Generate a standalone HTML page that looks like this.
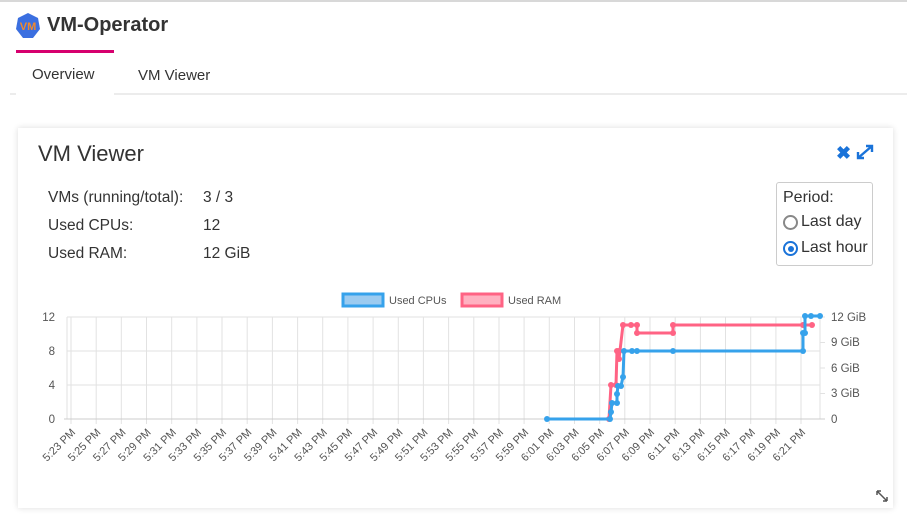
<!DOCTYPE html>
<html><head><meta charset="utf-8"><style>
body{margin:0;width:907px;height:525px;background:#fff;font-family:"Liberation Sans",sans-serif;position:relative;overflow:hidden;color:#333}
.top{position:absolute;left:0;top:0;width:907px;height:95px;background:#fff;border-top:2px solid #d8d8d8;box-sizing:border-box}
.bar{position:absolute;left:10px;top:93px;width:897px;height:2px;background:#ececec}
.card{position:absolute;left:18px;top:128px;width:875px;height:380px;background:#fff;box-shadow:0 0 6px rgba(0,0,0,.14)}
.abs{position:absolute;white-space:nowrap}
</style></head><body>
<div class="top">
<svg class="abs" style="left:15px;top:10px" width="26" height="28" viewBox="0 0 26 28"><polygon points="13,1 23,6 25,17 18,26 8,26 1,17 3,6" fill="#3b6fe0"/><text x="13" y="18" font-size="11" font-weight="bold" fill="#f28a2a" text-anchor="middle" font-family="Liberation Sans">VM</text></svg>
<div class="abs" style="left:47px;top:12px;font-size:20px;font-weight:bold;color:#333">VM-Operator</div>
<div class="abs" style="left:16px;top:48px;width:98px;height:3px;background:#d6006e"></div>
<div class="abs" style="left:32px;top:64px;font-size:15px">Overview</div>
<div class="abs" style="left:138px;top:65px;font-size:15px">VM Viewer</div>
</div>
<div class="bar"></div>
<div class="abs" style="left:16px;top:93px;width:98px;height:3px;background:#fff"></div>
<div class="card">
<div class="abs" style="left:20px;top:13px;font-size:22px;color:#333">VM Viewer</div>
<div class="abs" style="left:818px;top:15px;font-size:18px;color:#1a73d9;font-weight:bold">✖</div>
<svg class="abs" style="left:838px;top:16px" width="18" height="16" viewBox="0 0 18 16"><path d="M2 14 L16 2 M10 2 H16 V8 M2 8 V14 H8" stroke="#1a73d9" stroke-width="2.4" fill="none"/></svg>
<div class="abs" style="left:30px;top:61px;font-size:15.5px">VMs (running/total):</div>
<div class="abs" style="left:185px;top:61px;font-size:15.5px">3 / 3</div>
<div class="abs" style="left:30px;top:89px;font-size:15.5px">Used CPUs:</div>
<div class="abs" style="left:185px;top:89px;font-size:15.5px">12</div>
<div class="abs" style="left:30px;top:117px;font-size:15.5px">Used RAM:</div>
<div class="abs" style="left:185px;top:117px;font-size:15.5px">12 GiB</div>
<div class="abs" style="left:758px;top:54px;width:95px;height:82px;border:1px solid #ccc;border-radius:3px;font-size:16px">
<div class="abs" style="left:6px;top:6px">Period:</div>
<div class="abs" style="left:6px;top:32px;width:11px;height:11px;border:2px solid #888;border-radius:50%"></div>
<div class="abs" style="left:24px;top:30px">Last day</div>
<div class="abs" style="left:6px;top:58px;width:11px;height:11px;border:2px solid #1a73d9;border-radius:50%"><div style="margin:2.5px;width:6px;height:6px;border-radius:50%;background:#1a73d9"></div></div>
<div class="abs" style="left:24px;top:56px">Last hour</div>
</div>
<svg class="abs" style="left:858px;top:362px" width="12" height="12"><path d="M1 1 L11 11 M1 1 h4 M1 1 v4 M11 11 h-4 M11 11 v-4" stroke="#555" stroke-width="1.5"/></svg>
</div>
<svg class="abs" style="left:0;top:0" width="907" height="525" font-family="Liberation Sans">
<g stroke="#e2e2e2" stroke-width="1">
<line x1="67" y1="317" x2="820" y2="317"/><line x1="67" y1="351" x2="820" y2="351"/><line x1="67" y1="385" x2="820" y2="385"/>
</g>
<g stroke="#e2e2e2">
<line x1="71" y1="317" x2="71" y2="424"/><line x1="96.2" y1="317" x2="96.2" y2="424"/><line x1="121.3" y1="317" x2="121.3" y2="424"/><line x1="146.5" y1="317" x2="146.5" y2="424"/><line x1="171.7" y1="317" x2="171.7" y2="424"/><line x1="196.9" y1="317" x2="196.9" y2="424"/><line x1="222" y1="317" x2="222" y2="424"/><line x1="247.2" y1="317" x2="247.2" y2="424"/><line x1="272.4" y1="317" x2="272.4" y2="424"/><line x1="297.6" y1="317" x2="297.6" y2="424"/><line x1="322.7" y1="317" x2="322.7" y2="424"/><line x1="347.9" y1="317" x2="347.9" y2="424"/><line x1="373.1" y1="317" x2="373.1" y2="424"/><line x1="398.3" y1="317" x2="398.3" y2="424"/><line x1="423.4" y1="317" x2="423.4" y2="424"/><line x1="448.6" y1="317" x2="448.6" y2="424"/><line x1="473.8" y1="317" x2="473.8" y2="424"/><line x1="499" y1="317" x2="499" y2="424"/><line x1="524.1" y1="317" x2="524.1" y2="424"/><line x1="549.3" y1="317" x2="549.3" y2="424"/><line x1="574.5" y1="317" x2="574.5" y2="424"/><line x1="599.7" y1="317" x2="599.7" y2="424"/><line x1="624.8" y1="317" x2="624.8" y2="424"/><line x1="650" y1="317" x2="650" y2="424"/><line x1="675.2" y1="317" x2="675.2" y2="424"/><line x1="700.4" y1="317" x2="700.4" y2="424"/><line x1="725.5" y1="317" x2="725.5" y2="424"/><line x1="750.7" y1="317" x2="750.7" y2="424"/><line x1="775.9" y1="317" x2="775.9" y2="424"/><line x1="801" y1="317" x2="801" y2="424"/>
<line x1="67" y1="317" x2="67" y2="419"/><line x1="820" y1="317" x2="820" y2="419"/>
<line x1="820" y1="342.5" x2="825" y2="342.5"/><line x1="820" y1="368" x2="825" y2="368"/><line x1="820" y1="393.5" x2="825" y2="393.5"/><line x1="820" y1="317" x2="825" y2="317"/>
</g>
<line x1="64" y1="419" x2="825" y2="419" stroke="#ccc"/>
<g font-size="11.5" fill="#555" text-anchor="end">
<text x="55" y="321">12</text><text x="55" y="355">8</text><text x="55" y="389">4</text><text x="55" y="423">0</text>
</g>
<g font-size="11.5" fill="#555">
<text x="831" y="321">12 GiB</text><text x="831" y="346">9 GiB</text><text x="831" y="372">6 GiB</text><text x="831" y="397">3 GiB</text><text x="831" y="423">0</text>
</g>
<g font-size="11" fill="#555" text-anchor="end">
<text transform="translate(76,433) rotate(-45)">5:23 PM</text><text transform="translate(101.2,433) rotate(-45)">5:25 PM</text><text transform="translate(126.3,433) rotate(-45)">5:27 PM</text><text transform="translate(151.5,433) rotate(-45)">5:29 PM</text><text transform="translate(176.7,433) rotate(-45)">5:31 PM</text><text transform="translate(201.9,433) rotate(-45)">5:33 PM</text><text transform="translate(227,433) rotate(-45)">5:35 PM</text><text transform="translate(252.2,433) rotate(-45)">5:37 PM</text><text transform="translate(277.4,433) rotate(-45)">5:39 PM</text><text transform="translate(302.6,433) rotate(-45)">5:41 PM</text><text transform="translate(327.7,433) rotate(-45)">5:43 PM</text><text transform="translate(352.9,433) rotate(-45)">5:45 PM</text><text transform="translate(378.1,433) rotate(-45)">5:47 PM</text><text transform="translate(403.3,433) rotate(-45)">5:49 PM</text><text transform="translate(428.4,433) rotate(-45)">5:51 PM</text><text transform="translate(453.6,433) rotate(-45)">5:53 PM</text><text transform="translate(478.8,433) rotate(-45)">5:55 PM</text><text transform="translate(504,433) rotate(-45)">5:57 PM</text><text transform="translate(529.1,433) rotate(-45)">5:59 PM</text><text transform="translate(554.3,433) rotate(-45)">6:01 PM</text><text transform="translate(579.5,433) rotate(-45)">6:03 PM</text><text transform="translate(604.7,433) rotate(-45)">6:05 PM</text><text transform="translate(629.8,433) rotate(-45)">6:07 PM</text><text transform="translate(655,433) rotate(-45)">6:09 PM</text><text transform="translate(680.2,433) rotate(-45)">6:11 PM</text><text transform="translate(705.4,433) rotate(-45)">6:13 PM</text><text transform="translate(730.5,433) rotate(-45)">6:15 PM</text><text transform="translate(755.7,433) rotate(-45)">6:17 PM</text><text transform="translate(780.9,433) rotate(-45)">6:19 PM</text><text transform="translate(806,433) rotate(-45)">6:21 PM</text>
</g>
<rect x="343" y="294" width="40" height="12" fill="#9ccbf0" stroke="#36a2eb" stroke-width="3"/>
<text x="389" y="304" font-size="11" fill="#555">Used CPUs</text>
<rect x="462" y="294" width="40" height="12" fill="#ffb1c1" stroke="#ff6384" stroke-width="3"/>
<text x="508" y="304" font-size="11" fill="#555">Used RAM</text>
<polyline fill="none" stroke="#ff6384" stroke-width="3" points="609,419 611,385 616,385 617,351 619,351 619,359 623,325 631,325 637,325 637,333 673,333 673,325 803,325 812,325 812,326"/>
<g fill="#ff6384"><circle cx="609" cy="419" r="3"/><circle cx="611" cy="385" r="3"/><circle cx="616" cy="385" r="3"/><circle cx="617" cy="351" r="3"/><circle cx="619" cy="351" r="3"/><circle cx="619" cy="359" r="3"/><circle cx="623" cy="325" r="3"/><circle cx="631" cy="325" r="3"/><circle cx="637" cy="325" r="3"/><circle cx="637" cy="333" r="3"/><circle cx="673" cy="333" r="3"/><circle cx="673" cy="325" r="3"/><circle cx="803" cy="325" r="3"/><circle cx="812" cy="325" r="3"/></g>
<polyline fill="none" stroke="#36a2eb" stroke-width="3" points="547,419 610,419 611,412 612,403 617,403 617,394 618,386 621,386 623,377 624,351 632,351 637,351 673,351 803,351 803,333 805,333 805,316 811,316 820,316"/>
<g fill="#36a2eb"><circle cx="547" cy="419" r="3"/><circle cx="610" cy="419" r="3"/><circle cx="611" cy="412" r="3"/><circle cx="612" cy="403" r="3"/><circle cx="617" cy="403" r="3"/><circle cx="617" cy="394" r="3"/><circle cx="618" cy="386" r="3"/><circle cx="621" cy="386" r="3"/><circle cx="623" cy="377" r="3"/><circle cx="624" cy="351" r="3"/><circle cx="632" cy="351" r="3"/><circle cx="637" cy="351" r="3"/><circle cx="673" cy="351" r="3"/><circle cx="803" cy="351" r="3"/><circle cx="803" cy="333" r="3"/><circle cx="805" cy="333" r="3"/><circle cx="805" cy="316" r="3"/><circle cx="811" cy="316" r="3"/><circle cx="820" cy="316" r="3"/></g>
</svg>
</body></html>
